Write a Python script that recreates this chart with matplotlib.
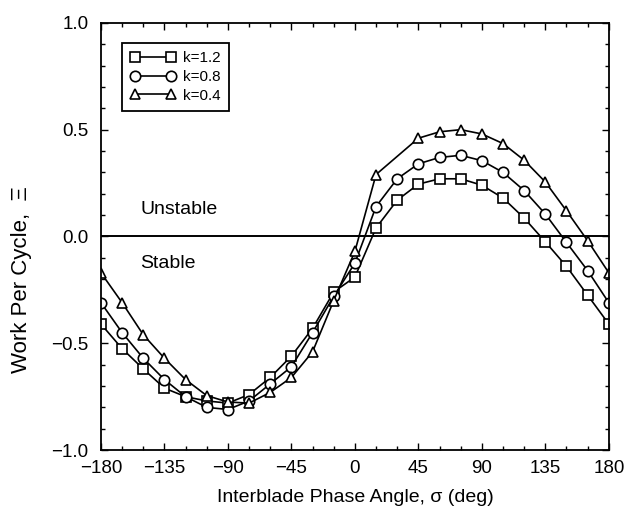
import numpy as np
import matplotlib.pyplot as plt
from matplotlib.ticker import MultipleLocator

plt.rcParams['font.family'] = ['Liberation Sans', 'DejaVu Sans']

# interblade phase angle (deg)
sigma = [-180, -165, -150, -135, -120, -105, -90, -75, -60, -45, -30, -15,
         0, 15, 30, 45, 60, 75, 90, 105, 120, 135, 150, 165, 180]
# k=0.4 has no point at 30 deg
sigma_k04 = [-180, -165, -150, -135, -120, -105, -90, -75, -60, -45, -30, -15,
             0, 15, 45, 60, 75, 90, 105, 120, 135, 150, 165, 180]

work_k12 = [-0.41, -0.525, -0.62, -0.71, -0.75, -0.77, -0.78, -0.74, -0.66,
            -0.56, -0.43, -0.26, -0.19, 0.04, 0.17, 0.245, 0.27, 0.27, 0.24,
            0.18, 0.086, -0.025, -0.14, -0.275, -0.41]
work_k08 = [-0.31, -0.45, -0.57, -0.67, -0.75, -0.80, -0.81, -0.77, -0.69,
            -0.61, -0.45, -0.28, -0.125, 0.14, 0.27, 0.34, 0.37, 0.38, 0.355,
            0.30, 0.215, 0.105, -0.028, -0.16, -0.31]
work_k04 = [-0.17, -0.31, -0.46, -0.57, -0.67, -0.745, -0.775, -0.78, -0.73,
            -0.66, -0.54, -0.30, -0.07, 0.29, 0.46, 0.49, 0.50, 0.48, 0.435,
            0.357, 0.255, 0.12, -0.02, -0.17]

fig = plt.figure(figsize=(6.27, 5.08), dpi=100)
ax = fig.add_axes([0.161, 0.114, 0.810, 0.841])

style = dict(color='black', lw=1.2, mfc='white', mec='black', mew=1.2, ms=7.5)
ax.plot(sigma, work_k12, marker='s', label='k=1.2', **style)
ax.plot(sigma, work_k08, marker='o', label='k=0.8', **style)
ax.plot(sigma_k04, work_k04, marker='^', label='k=0.4', **style)

ax.axhline(0, color='black', lw=1.4, zorder=1)
ax.text(-152, 0.125, 'Unstable', fontsize=14, va='center', ha='left')
ax.text(-152, -0.125, 'Stable', fontsize=14, va='center', ha='left')

ax.set_xlim(-180, 180)
ax.set_ylim(-1.0, 1.0)
ax.xaxis.set_major_locator(MultipleLocator(45))
ax.xaxis.set_minor_locator(MultipleLocator(15))
ax.yaxis.set_major_locator(MultipleLocator(0.5))
ax.yaxis.set_minor_locator(MultipleLocator(0.1))
ax.xaxis.set_major_formatter(lambda v, p: f'{v:.0f}'.replace('-', '\u2212'))
ax.yaxis.set_major_formatter(lambda v, p: f'{v:.1f}'.replace('-', '\u2212'))
ax.tick_params(which='both', direction='in', top=True, right=True,
               labelsize=13.5, width=1.0)
ax.tick_params(axis='x', pad=7)
ax.tick_params(axis='y', pad=9)
ax.tick_params(which='major', length=5)
ax.tick_params(which='minor', length=3)
for s in ax.spines.values():
    s.set_linewidth(1.3)

ax.set_xlabel('Interblade Phase Angle, \u03c3 (deg)', fontsize=14, labelpad=9)
ax.set_ylabel('Work Per Cycle,  \u039e', fontsize=16)
ax.yaxis.set_label_coords(-0.135, 0.40)

leg = ax.legend(loc='upper left', bbox_to_anchor=(0.041, 0.953), numpoints=2,
                handlelength=3.0, handletextpad=0.45, borderpad=0.55,
                labelspacing=0.3, fontsize=11, fancybox=False,
                borderaxespad=0, edgecolor='black', framealpha=1)
leg.get_frame().set_linewidth(1.3)

fig.savefig('out.png', dpi=100)
